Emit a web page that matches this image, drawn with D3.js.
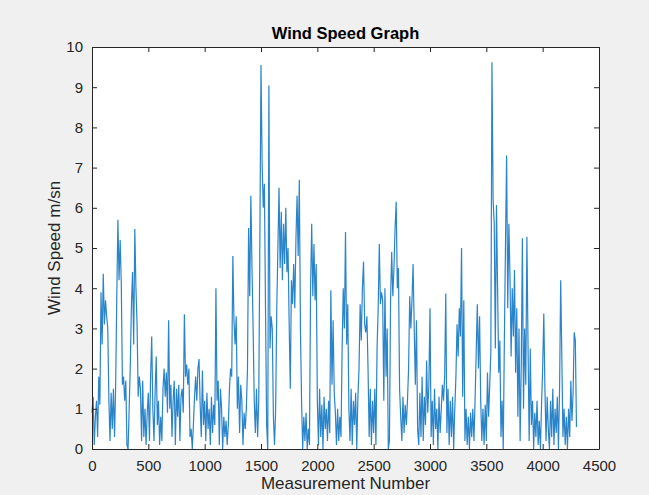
<!DOCTYPE html>
<html>
<head>
<meta charset="utf-8">
<script src="https://cdn.jsdelivr.net/npm/d3@7"></script>
<style>
  html, body { margin: 0; padding: 0; background: #f0f0f0; }
  svg { display: block; }
  text { font-family: "Liberation Sans", Arial, Helvetica, sans-serif; }
</style>
</head>
<body>
<svg id="chart" width="649" height="495"></svg>
<script>
const stepSize = 10;
const windSpeed = [
  0.9, 1.3, 0.1, 0.8, 1.2, 0.3, 1.8, 1.1, 3.9, 2.6,
  4.36, 3.1, 3.7, 3.3, 3.0, 1.2, 0.2, 1.4, 0.5, 1.5,
  0.3, 1.6, 3.8, 5.7, 4.2, 5.2, 4.1, 1.6, 1.8, 1.2,
  1.7, 0.1, 0.0, 1.0, 2.1, 3.6, 4.4, 2.6, 5.47, 4.0,
  3.1, 1.3, 1.8, 1.5, 0.2, 1.7, 0.3, 1.0, 0.1, 0.9,
  1.4, 0.2, 1.8, 2.8, 1.0, 0.2, 1.4, 2.3, 0.6, 1.2,
  0.1, 0.8, 0.2, 1.5, 2.0, 1.3, 1.9, 0.9, 3.2, 1.0,
  1.6, 0.3, 1.2, 1.7, 0.1, 1.5, 0.8, 1.6, 0.2, 1.3,
  1.5, 0.9, 3.35, 1.8, 2.1, 1.6, 2.0, 0.3, 0.5, 0.0,
  0.6, 1.3, 1.8, 1.2, 2.0, 2.24, 1.1, 0.3, 1.95, 0.6,
  1.2, 0.2, 1.4, 0.5, 1.0, 0.1, 1.3, 0.4, 1.1, 0.6,
  4.0, 1.2, 1.7, 0.1, 1.5, 1.0, 0.0, 0.8, 0.3, 0.7,
  0.1, 0.6, 1.5, 2.0, 1.8, 4.8, 3.2, 2.6, 3.3, 1.0,
  1.8, 0.4, 1.6, 1.2, 0.1, 0.9, 0.5, 1.0, 2.0, 5.5,
  3.8, 6.3, 4.5, 3.0, 1.2, 0.4, 1.5, 0.3, 1.2, 5.2,
  9.55, 7.1, 6.0, 6.6, 3.5, 0.6, 0.0, 9.04, 2.5, 3.3,
  3.0, 0.8, 0.1, 1.0, 3.5, 5.0, 6.5, 4.5, 5.9, 4.2,
  5.6, 4.6, 6.0, 4.4, 5.0, 3.1, 1.5, 4.2, 3.6, 4.6,
  3.5, 5.2, 6.3, 4.8, 6.7, 3.0, 1.2, 0.0, 0.8, 0.2,
  0.9, 0.0, 0.5, 0.1, 4.0, 5.6, 3.8, 5.1, 3.7, 4.6,
  1.2, 0.1, 1.5, 0.3, 1.1, 0.0, 1.3, 0.5, 1.0, 0.2,
  1.2, 0.4, 3.95, 1.6, 3.2, 1.4, 0.9, 0.1, 1.0, 0.2,
  0.8, 0.3, 2.5, 4.0, 3.0, 5.4, 2.6, 3.6, 1.0, 0.2,
  1.5, 0.1, 1.2, 0.6, 1.4, 0.0, 1.3, 2.0, 3.6, 2.7,
  4.0, 4.66, 3.1, 2.9, 3.3, 2.0, 0.3, 1.5, 0.1, 1.2,
  0.4, 1.5, 0.1, 2.5, 3.5, 5.1, 3.6, 3.9, 3.7, 1.2,
  4.0, 1.8, 3.0, 0.0, 0.2, 3.7, 4.9, 3.8, 4.5, 5.5,
  6.15, 4.0, 4.5, 1.5, 0.8, 0.2, 1.3, 0.4, 1.1, 0.6,
  1.2, 2.0, 3.8, 3.0, 3.7, 4.6, 3.0, 1.6, 3.2, 0.5,
  0.1, 1.4, 0.3, 1.8, 0.2, 1.3, 0.6, 2.2, 0.9, 1.6,
  3.5, 0.3, 1.2, 0.1, 1.5, 0.5, 1.0, 0.0, 1.3, 0.4,
  1.0, 1.6, 1.2, 1.8, 3.87, 0.4, 1.5, 0.1, 1.2, 0.3,
  1.3, 0.0, 1.0, 1.8, 3.1, 2.3, 3.5, 2.8, 5.0, 1.3,
  3.7, 0.2, 1.0, 0.1, 0.8, 0.0, 0.9, 0.3, 1.0, 0.2,
  1.2, 2.4, 3.6, 2.0, 3.3, 1.2, 0.2, 1.0, 0.1, 1.1,
  0.2, 1.9, 0.8, 1.6, 2.4, 9.62, 6.2, 5.6, 2.5, 6.07,
  4.0, 1.9, 2.7, 0.3, 1.2, 0.0, 2.7, 5.1, 7.3, 3.5,
  5.6, 4.3, 2.3, 4.0, 2.8, 4.45, 1.9, 3.5, 0.8, 3.0,
  0.2, 2.1, 5.24, 1.0, 3.0, 1.6, 5.28, 2.6, 0.2, 2.5,
  0.6, 1.2, 0.0, 0.9, 0.3, 1.2, 0.1, 0.7, 0.0, 1.1,
  2.0, 3.37, 1.5, 0.2, 1.3, 0.5, 0.0, 1.2, 0.3, 1.5,
  0.1, 1.0, 0.4, 1.3, 0.0, 1.5, 4.2, 2.3, 0.3, 1.0,
  0.1, 0.8, 0.0, 1.0, 0.3, 1.7, 0.7, 1.4, 2.9, 2.7,
  0.55
];
const xTicks = [0, 500, 1000, 1500, 2000, 2500, 3000, 3500, 4000, 4500];
const yTicks = [0, 1, 2, 3, 4, 5, 6, 7, 8, 9, 10];
const titleText = "Wind Speed Graph";
const xLabelText = "Measurement Number";
const yLabelText = "Wind Speed m/sn";

const points = windSpeed.map((v, i) => ({ m: i * stepSize, v }));

// ---- layout ----
const svg = d3.select("#chart");
const mLeft = 92, mRight = 599, mTop = 47, mBottom = 449;
const axisColor = "#262626";

const x = d3.scaleLinear().domain([0, 4500]).range([mLeft, mRight]);
const y = d3.scaleLinear().domain([0, 10]).range([mBottom, mTop]);

svg.append("rect")
  .attr("x", mLeft).attr("y", mTop)
  .attr("width", mRight - mLeft).attr("height", mBottom - mTop)
  .attr("fill", "#ffffff");

const line = d3.line().x(d => x(d.m)).y(d => y(d.v));
svg.append("path")
  .datum(points)
  .attr("d", line)
  .attr("fill", "none")
  .attr("stroke", "#2a84ca")
  .attr("stroke-width", 1.2)
  .attr("stroke-linejoin", "miter");

const fontSize = 15;
const gx = svg.append("g").attr("transform", `translate(0,${mBottom})`)
  .call(d3.axisBottom(x).tickValues(xTicks).tickSizeInner(-5).tickSizeOuter(0).tickPadding(11).tickFormat(d3.format("d")));
const gxt = svg.append("g").attr("transform", `translate(0,${mTop})`)
  .call(d3.axisTop(x).tickValues(xTicks).tickSizeInner(-5).tickSizeOuter(0).tickFormat(""));
const gy = svg.append("g").attr("transform", `translate(${mLeft},0)`)
  .call(d3.axisLeft(y).tickValues(yTicks).tickSizeInner(-5).tickSizeOuter(0).tickPadding(9).tickFormat(d3.format("d")));
const gyr = svg.append("g").attr("transform", `translate(${mRight},0)`)
  .call(d3.axisRight(y).tickValues(yTicks).tickSizeInner(-5).tickSizeOuter(0).tickFormat(""));

[gx, gxt, gy, gyr].forEach(g => {
  g.selectAll(".domain").attr("stroke", axisColor).attr("stroke-width", 1);
  g.selectAll(".tick line").attr("stroke", axisColor).attr("stroke-width", 1);
  g.selectAll(".tick text")
    .attr("fill", axisColor)
    .style("font-size", fontSize + "px")
    .style("font-family", "'Liberation Sans', Arial, Helvetica, sans-serif");
});

svg.append("text")
  .attr("x", (mLeft + mRight) / 2).attr("y", 39)
  .attr("text-anchor", "middle")
  .attr("fill", "#000000")
  .style("font-size", "16.5px")
  .style("font-weight", "bold")
  .text(titleText);

svg.append("text")
  .attr("x", (mLeft + mRight) / 2).attr("y", 489)
  .attr("text-anchor", "middle")
  .attr("fill", axisColor)
  .style("font-size", "17px")
  .text(xLabelText);

svg.append("text")
  .attr("transform", `translate(60,${(mTop + mBottom) / 2}) rotate(-90)`)
  .attr("text-anchor", "middle")
  .attr("fill", axisColor)
  .style("font-size", "17px")
  .text(yLabelText);
</script>
</body>
</html>
